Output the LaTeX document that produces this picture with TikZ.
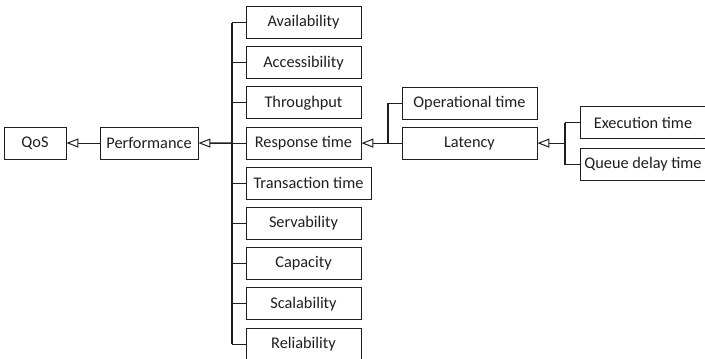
\documentclass[tikz,border=0pt]{standalone}
\usepackage{fontspec}
\setmainfont{Carlito}
\usetikzlibrary{arrows.meta}
\definecolor{ink}{HTML}{1E1E1E}
\begin{document}
\begin{tikzpicture}[x=1pt,y=-1pt,
  box/.style={draw=ink, line width=0.9pt, minimum height=32pt, inner sep=0pt,
    text=ink, font=\fontsize{16.3}{19}\selectfont},
  wire/.style={draw=ink, line width=1pt},
  bus/.style={draw=ink, line width=1.4pt},
  gen/.style={draw=ink, line width=1pt, -{Triangle[open, length=12pt, width=9pt, line width=1pt]}}]
\useasboundingbox (0,0) rectangle (705,359);

% root and first level
\node[box, minimum width=62pt] (qos) at (35,143) {QoS};
\node[box, minimum width=98pt] (perf) at (149,143) {Performance};

% performance attributes
\node[box, minimum width=115pt] (avail) at (303.5,22.5) {Availability};
\node[box, minimum width=115pt] (acc) at (303.5,62.7) {Accessibility};
\node[box, minimum width=115pt] (thr) at (303.5,102.9) {Throughput};
\node[box, minimum width=115pt] (resp) at (303.5,143.1) {Response time};
\node[box, minimum width=125pt] (trans) at (308.5,183.3) {Transaction time};
\node[box, minimum width=115pt] (serv) at (303.5,223.5) {Servability};
\node[box, minimum width=115pt] (cap) at (303.5,263.7) {Capacity};
\node[box, minimum width=115pt] (scal) at (303.5,303.9) {Scalability};
\node[box, minimum width=115pt] (rel) at (303.5,344.1) {Reliability};

% response time parts
\node[box, minimum width=135pt] (op) at (469.5,103) {Operational time};
\node[box, minimum width=135pt] (lat) at (469.5,143.1) {Latency};

% latency parts
\node[box, minimum width=126pt] (exec) at (643,122.5) {Execution time};
\node[box, minimum width=126pt] (queue) at (643,164.5) {Queue delay time};

% bus coordinates
\coordinate (b1) at (232,0);
\coordinate (b2) at (388,0);
\coordinate (b3) at (565,0);

% generalisation arrows
\draw[gen] (perf) -- (qos);
\draw[gen, line width=1.6pt] (resp.west -| b1) -- (perf);
\draw[gen] (lat.west -| b2) -- (resp);
\draw[gen] (exec.west -| b3) |- (lat.east);

% bus of performance attributes
\draw[bus] (avail.west -| b1) -- (rel.west -| b1);
\foreach \n in {avail,acc,thr,resp,trans,serv,cap,scal,rel}
  \draw[wire] (\n.west) -- (\n.west -| b1);

% bus of response time parts
\draw[bus] (op.west -| b2) -- (lat.west -| b2);
\foreach \n in {op,lat}
  \draw[wire] (\n.west) -- (\n.west -| b2);

% bus of latency parts
\draw[bus] (exec.west -| b3) -- (queue.west -| b3);
\foreach \n in {exec,queue}
  \draw[wire] (\n.west) -- (\n.west -| b3);
\end{tikzpicture}
\end{document}
